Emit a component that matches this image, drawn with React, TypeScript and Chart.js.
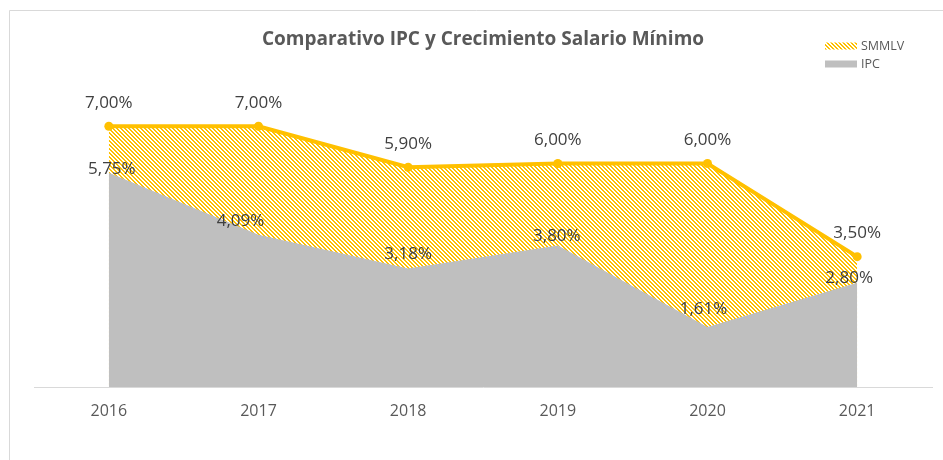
import { useEffect, useRef } from "react";
import { Chart, registerables } from "chart.js";
Chart.register(...registerables);

const years = ["2016", "2017", "2018", "2019", "2020", "2021"];
const smmlv = [7.0, 7.0, 5.9, 6.0, 6.0, 3.5];
const ipc = [5.75, 4.09, 3.18, 3.8, 1.61, 2.8];
const titleText = "Comparativo IPC y Crecimiento Salario Mínimo";
const legendNames = ["SMMLV", "IPC"];

const smmlvLabelShift = [[0, -23], [0, -23], [0, -23], [0, -23], [0, -23], [0, -23]];
const ipcLabelShift = [[3, -4], [-18, -13], [0, -14], [-1, -9], [-4, -18], [-8, -5]];

const YELLOW = "#FFC000";
const GRAY = "#BFBFBF";
const TEXT = "#595959";
const LABEL = "#404040";
const FONT = "'Open Sans', sans-serif";

const fmt = (v: number) => v.toFixed(2).replace(".", ",") + "%";

function makePattern(ctx: CanvasRenderingContext2D): CanvasPattern | string {
  const c = document.createElement("canvas");
  c.width = 4;
  c.height = 4;
  const p = c.getContext("2d");
  if (!p) return YELLOW;
  p.fillStyle = "#ffffff";
  p.fillRect(0, 0, 4, 4);
  p.fillStyle = YELLOW;
  for (let y = 0; y < 4; y++) {
    for (let x = 0; x < 4; x++) {
      const d = (((x - y) % 4) + 4) % 4;
      if (d === 0 || d === 1) p.fillRect(x, y, 1, 1);
    }
  }
  return ctx.createPattern(c, "repeat") || YELLOW;
}

export default function App() {
  const ref = useRef<HTMLCanvasElement>(null);
  useEffect(() => {
    const canvas = ref.current;
    if (!canvas) return;
    const ctx = canvas.getContext("2d");
    if (!ctx) return;
    const pattern = makePattern(ctx);

    const decor = {
      id: "decor",
      beforeDraw(chart: any) {
        const c = chart.ctx;
        c.save();
        c.fillStyle = "#ffffff";
        c.fillRect(0, 0, chart.width, chart.height);
        c.strokeStyle = "#d9d9d9";
        c.lineWidth = 1;
        c.beginPath();
        c.moveTo(9.5, chart.height);
        c.lineTo(9.5, 10.5);
        c.lineTo(chart.width, 10.5);
        c.stroke();
        c.restore();
      },
      afterDraw(chart: any) {
        const c = chart.ctx;
        c.save();
        // title
        c.fillStyle = TEXT;
        c.font = `bold 19px ${FONT}`;
        c.textAlign = "center";
        c.textBaseline = "middle";
        c.fillText(titleText, 483, 40);
        // legend
        const boxes = [pattern, GRAY];
        const ys = [46, 64];
        c.font = `12.5px ${FONT}`;
        c.textAlign = "left";
        for (let i = 0; i < 2; i++) {
          c.fillStyle = boxes[i] as any;
          c.fillRect(825, ys[i] - 3.5, 32, 7);
          c.fillStyle = TEXT;
          c.fillText(legendNames[i], 861, ys[i]);
        }
        // data labels
        c.font = `17px ${FONT}`;
        c.fillStyle = LABEL;
        c.textAlign = "center";
        const m0 = chart.getDatasetMeta(0);
        const m1 = chart.getDatasetMeta(1);
        m0.data.forEach((pt: any, i: number) => {
          c.fillText(fmt(smmlv[i]), pt.x + smmlvLabelShift[i][0], pt.y + smmlvLabelShift[i][1]);
        });
        m1.data.forEach((pt: any, i: number) => {
          c.fillText(fmt(ipc[i]), pt.x + ipcLabelShift[i][0], pt.y + ipcLabelShift[i][1]);
        });
        c.restore();
      },
    };

    const chart = new Chart(ctx, {
      type: "line",
      data: {
        labels: years,
        datasets: [
          {
            label: legendNames[0],
            data: smmlv,
            order: 2,
            borderColor: YELLOW,
            borderWidth: 4,
            backgroundColor: pattern as any,
            fill: "origin",
            pointRadius: 4.5,
            pointBackgroundColor: YELLOW,
            pointBorderColor: YELLOW,
            pointBorderWidth: 0,
            tension: 0,
          },
          {
            label: legendNames[1],
            data: ipc,
            order: 1,
            borderColor: GRAY,
            borderWidth: 0,
            backgroundColor: GRAY,
            fill: "origin",
            pointRadius: 0,
            tension: 0,
          },
        ],
      },
      options: {
        responsive: false,
        animation: false,
        layout: { padding: { left: 34, right: 11, top: 89, bottom: 0 } },
        plugins: {
          legend: { display: false },
          tooltip: { enabled: false },
        },
        scales: {
          x: {
            type: "category",
            offset: true,
            grid: { display: false, drawTicks: false },
            border: { display: true, color: "#d9d9d9", width: 1 },
            ticks: {
              color: TEXT,
              font: { family: FONT, size: 16 },
              padding: 15,
              maxRotation: 0,
            },
            afterFit: (s: any) => {
              s.height = 73;
            },
          },
          y: { display: false, min: 0, max: 8 },
        },
      },
      plugins: [decor],
    });
    return () => chart.destroy();
  }, []);
  return (
    <canvas
      ref={ref}
      width={943}
      height={460}
      style={{ position: "fixed", left: 0, top: 0, width: 943, height: 460 }}
    />
  );
}
